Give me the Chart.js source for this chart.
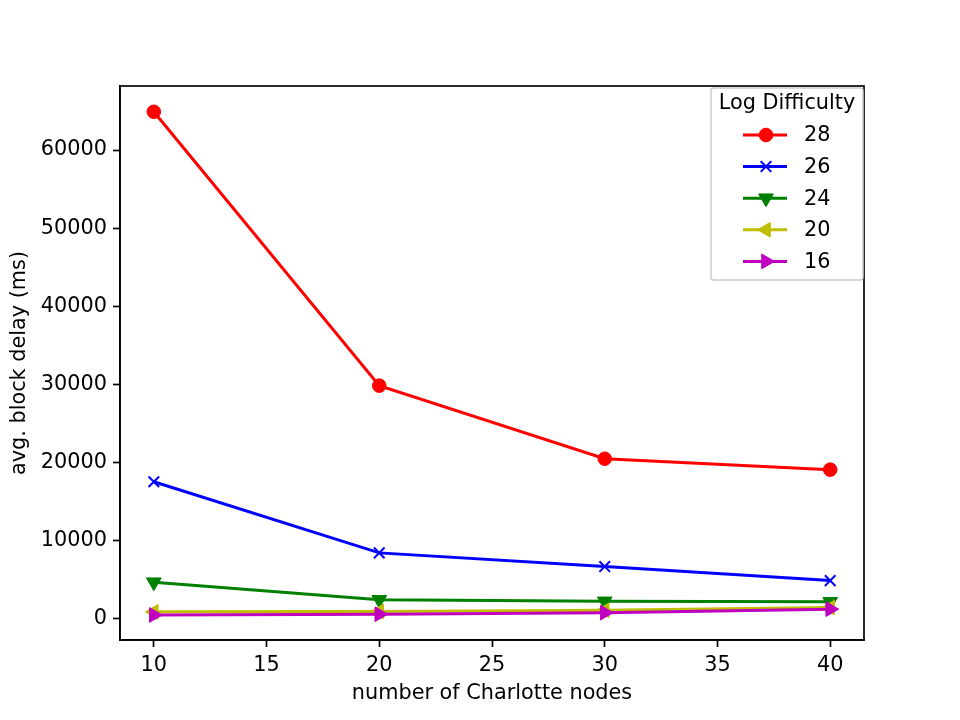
<!DOCTYPE html>
<html lang="en">
<head>
<meta charset="UTF-8">
<title>avg. block delay</title>
<script src="https://cdn.jsdelivr.net/npm/chart.js"></script>
<style>
    html, body { margin: 0; padding: 0; background: #fff; }
    #wrap { width: 960px; height: 720px; }
</style>
</head>
<body>
<div id="wrap"><canvas id="grafik" width="960" height="720"></canvas></div>
<script>
// data
var nodes = [10, 20, 30, 40];
var seriesLabels = ['28', '26', '24', '20', '16'];
var d28 = [64900, 29850, 20500, 19100];
var d26 = [17550, 8450, 6700, 4900];
var d24 = [4700, 2450, 2250, 2200];
var d20 = [900, 950, 1100, 1450];
var d16 = [500, 600, 800, 1250];
var xTicks = [10, 15, 20, 25, 30, 35, 40];
var yTicks = [0, 10000, 20000, 30000, 40000, 50000, 60000];

var FONT = 'DejaVu Sans';
var FS = 20.8;

function pts(ys) {
    return nodes.map(function (x, i) { return { x: x, y: ys[i] }; });
}

function ds(label, ys, color, style, rot, r, bw, order) {
    return {
        label: label,
        data: pts(ys),
        order: order, // matplotlib: sonraki seri üstte
        borderColor: color,
        backgroundColor: color,
        borderWidth: 3,
        pointStyle: style,
        pointRotation: rot,
        pointRadius: r,
        pointHoverRadius: r,
        pointBorderWidth: bw,
        pointBorderColor: color,
        pointBackgroundColor: color,
        fill: false,
        tension: 0
    };
}

var datasets = [
    ds(seriesLabels[0], d28, '#ff0000', 'circle', 0, 6.8, 1, 5),
    ds(seriesLabels[1], d26, '#0000ff', 'crossRot', 0, 7.5, 2, 4),
    ds(seriesLabels[2], d24, '#008000', 'triangle', 180, 8.5, 1, 3),
    ds(seriesLabels[3], d20, '#bfbf00', 'triangle', -90, 8.5, 1, 2),
    ds(seriesLabels[4], d16, '#bf00bf', 'triangle', 90, 8.5, 1, 1)
];

// kutu + legend
var framePlugin = {
    id: 'frame',
    afterDraw: function (chart) {
        var ctx = chart.ctx;
        var a = chart.chartArea;
        ctx.save();
        ctx.strokeStyle = '#000';
        ctx.lineWidth = 1.67;
        ctx.strokeRect(a.left, a.top, a.right - a.left, a.bottom - a.top);

        // legend box
        var bx = 711, by = 88, bw = 152, bh = 192;
        ctx.fillStyle = 'rgba(255,255,255,0.8)';
        ctx.strokeStyle = '#cccccc';
        ctx.lineWidth = 1.5;
        ctx.beginPath();
        if (ctx.roundRect) ctx.roundRect(bx, by, bw, bh, 3); else ctx.rect(bx, by, bw, bh);
        ctx.fill();
        ctx.stroke();

        ctx.fillStyle = '#000';
        ctx.font = FS + 'px "' + FONT + '"';
        ctx.textAlign = 'center';
        ctx.textBaseline = 'middle';
        ctx.fillText('Log Difficulty', bx + bw / 2, 104);

        chart.data.datasets.forEach(function (d, i) {
            var y = 135 + i * 31.6;
            ctx.strokeStyle = d.borderColor;
            ctx.lineWidth = 3;
            ctx.beginPath();
            ctx.moveTo(743, y);
            ctx.lineTo(787, y);
            ctx.stroke();
            ctx.fillStyle = d.pointBackgroundColor;
            ctx.lineWidth = d.pointBorderWidth;
            Chart.helpers.drawPoint(ctx, {
                pointStyle: d.pointStyle,
                rotation: d.pointRotation,
                radius: d.pointRadius,
                borderWidth: d.pointBorderWidth
            }, 766, y);
            ctx.fillStyle = '#000';
            ctx.textAlign = 'left';
            ctx.fillText(d.label, 804, y + 1);
        });
        ctx.restore();
    }
};

var ctx = document.getElementById('grafik').getContext('2d');
var grafik = new Chart(ctx, {
    type: 'line',
    data: { datasets: datasets },
    plugins: [framePlugin],
    options: {
        responsive: false,
        animation: false,
        events: [],
        layout: { padding: { top: 86, right: 96, left: 0, bottom: 0 } },
        plugins: { legend: { display: false }, tooltip: { enabled: false } },
        scales: {
            x: {
                type: 'linear',
                min: 8.5,
                max: 41.5,
                afterBuildTicks: function (s) { s.ticks = xTicks.map(function (v) { return { value: v }; }); },
                afterFit: function (s) { s.height = 80; },
                grid: { drawOnChartArea: false, drawTicks: true, tickLength: 7, tickColor: '#000', tickWidth: 1.67 },
                border: { display: true, color: '#000', width: 1.67 },
                ticks: { color: '#000', padding: 6, maxRotation: 0, font: { family: FONT, size: FS } },
                title: {
                    display: true,
                    text: 'number of Charlotte nodes',
                    color: '#000',
                    font: { family: FONT, size: FS },
                    padding: { top: 0, bottom: 14 }
                }
            },
            y: {
                type: 'linear',
                min: -2700,
                max: 68200,
                afterBuildTicks: function (s) { s.ticks = yTicks.map(function (v) { return { value: v }; }); },
                afterFit: function (s) { s.width = 120; },
                grid: { drawOnChartArea: false, drawTicks: true, tickLength: 7, tickColor: '#000', tickWidth: 1.67 },
                border: { display: true, color: '#000', width: 1.67 },
                ticks: {
                    color: '#000', padding: 6, font: { family: FONT, size: FS },
                    callback: function (v) { return String(v); }
                },
                title: {
                    display: true,
                    text: 'avg. block delay (ms)',
                    color: '#000',
                    font: { family: FONT, size: FS },
                    padding: { top: 7, bottom: 0 }
                }
            }
        }
    }
});
</script>
</body>
</html>
